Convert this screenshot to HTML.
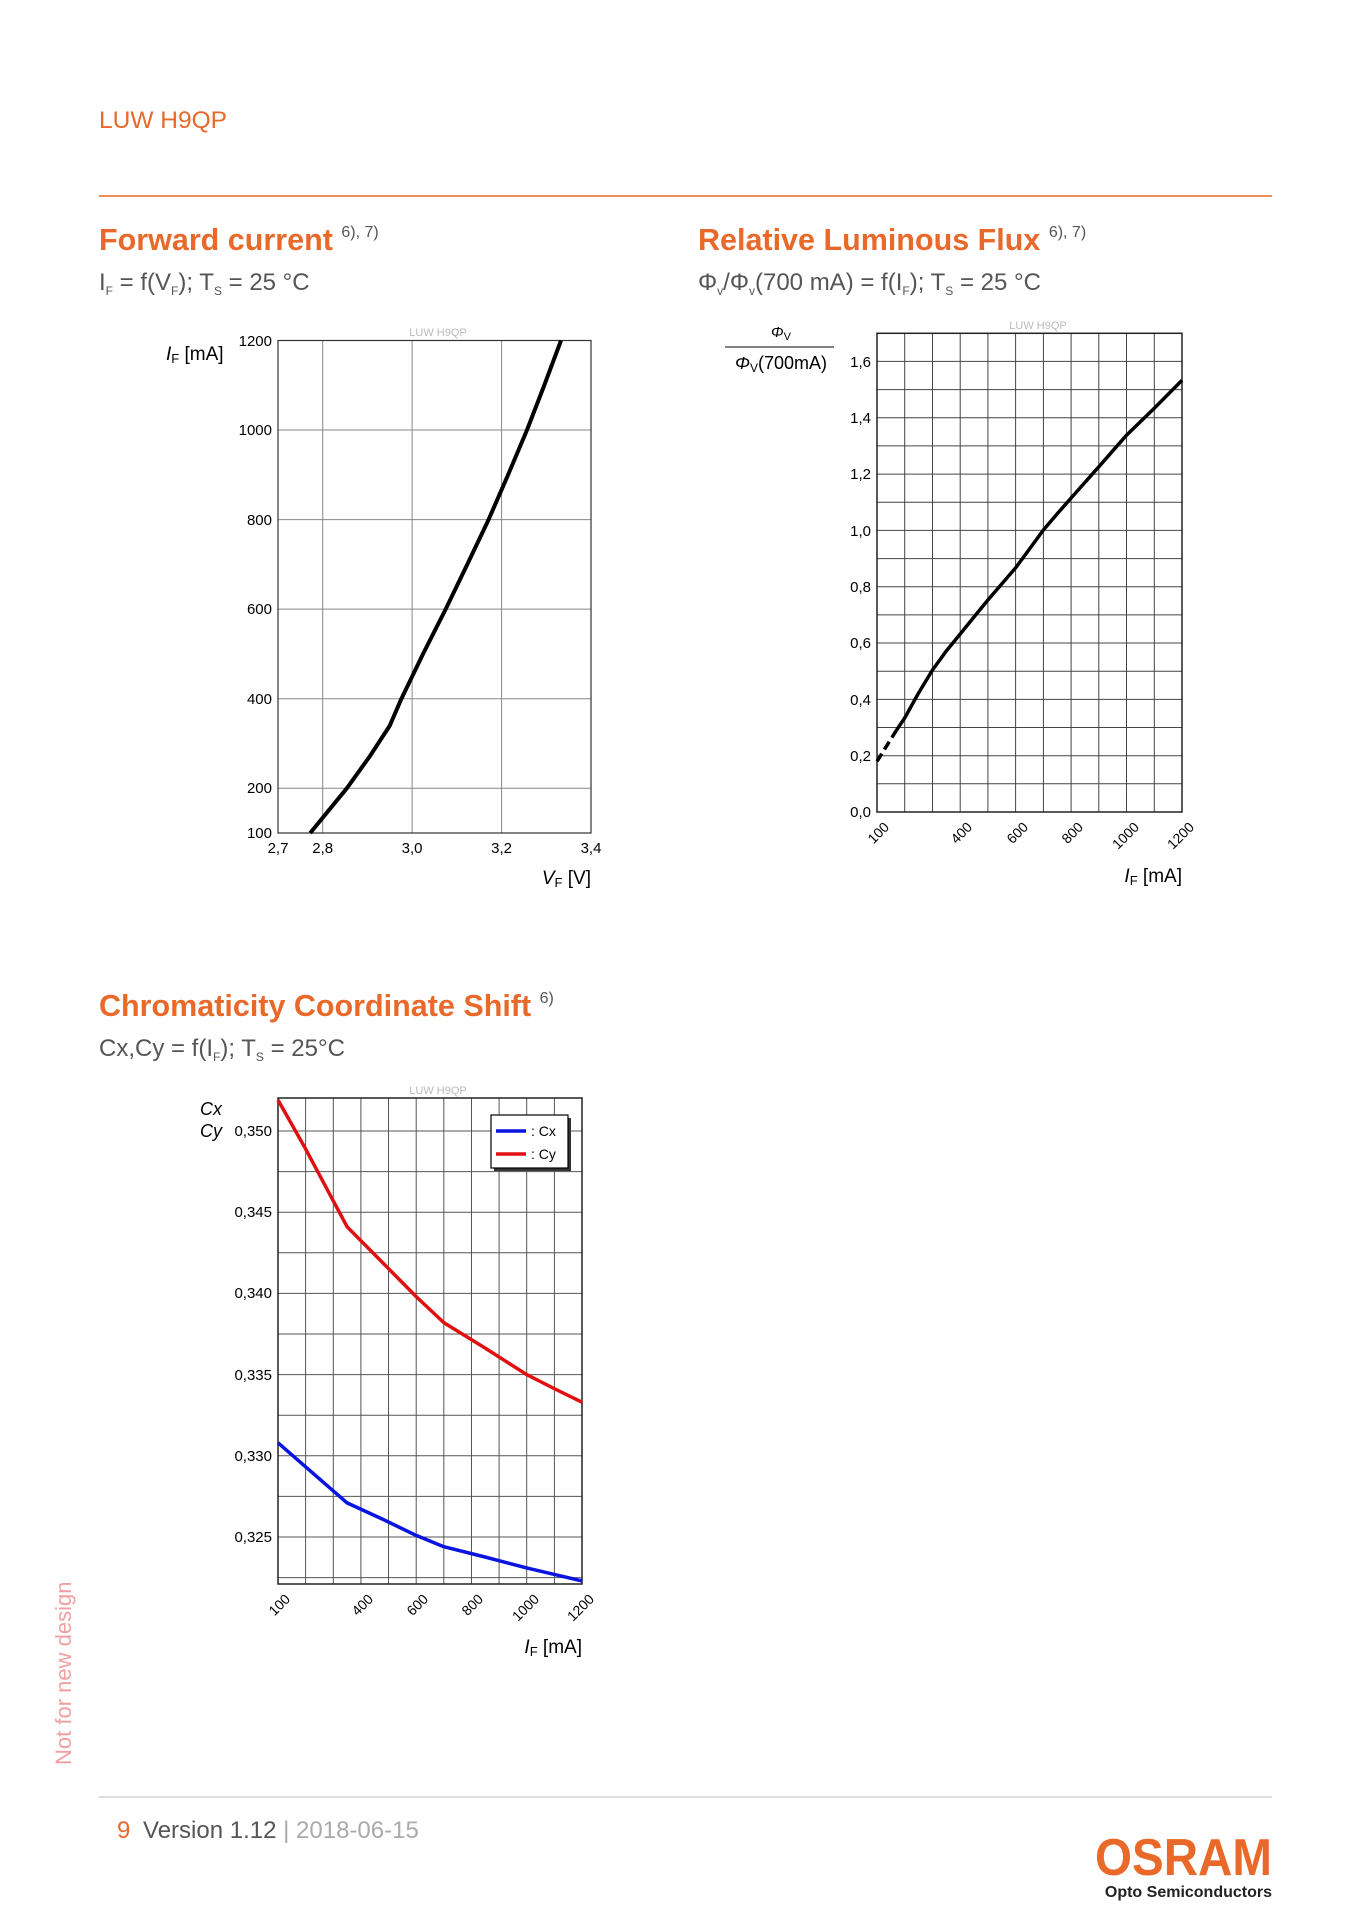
<!DOCTYPE html>
<html><head><meta charset="utf-8"><style>
html,body{margin:0;padding:0;background:#fff}
svg{display:block}
text{font-family:"Liberation Sans",sans-serif}
</style></head><body>
<svg width="1357" height="1920" viewBox="0 0 1357 1920" xmlns="http://www.w3.org/2000/svg">
<text x="99" y="128" font-size="24.5" fill="#e8692a">LUW H9QP</text>
<line x1="99" y1="196" x2="1272" y2="196" stroke="#e8692a" stroke-width="1.5"/>

<!-- Titles -->
<text x="99" y="250" font-size="30.5" font-weight="bold" fill="#e8692a">Forward current <tspan font-size="16" font-weight="normal" fill="#555" dy="-13">6), 7)</tspan></text>
<text x="99" y="290" font-size="24" fill="#555">I<tspan font-size="12" dy="5">F</tspan><tspan dy="-5"> = f(V</tspan><tspan font-size="12" dy="5">F</tspan><tspan dy="-5">); T</tspan><tspan font-size="12" dy="5">S</tspan><tspan dy="-5"> = 25 °C</tspan></text>
<text x="698" y="250" font-size="30.5" font-weight="bold" fill="#e8692a">Relative Luminous Flux <tspan font-size="16" font-weight="normal" fill="#555" dy="-13">6), 7)</tspan></text>
<text x="698" y="290" font-size="24" fill="#555">Φ<tspan font-size="12" dy="5">v</tspan><tspan dy="-5">/Φ</tspan><tspan font-size="12" dy="5">v</tspan><tspan dy="-5">(700 mA) = f(I</tspan><tspan font-size="12" dy="5">F</tspan><tspan dy="-5">); T</tspan><tspan font-size="12" dy="5">S</tspan><tspan dy="-5"> = 25 °C</tspan></text>
<text x="99" y="1016" font-size="30.5" font-weight="bold" fill="#e8692a">Chromaticity Coordinate Shift <tspan font-size="16" font-weight="normal" fill="#555" dy="-13">6)</tspan></text>
<text x="99" y="1056" font-size="24" fill="#555">Cx,Cy = f(I<tspan font-size="12" dy="5">F</tspan><tspan dy="-5">); T</tspan><tspan font-size="12" dy="5">S</tspan><tspan dy="-5"> = 25°C</tspan></text>

<!-- Chart 1 -->
<g stroke="#888" stroke-width="1">
<line x1="322.7" y1="340.5" x2="322.7" y2="833"/><line x1="412.1" y1="340.5" x2="412.1" y2="833"/><line x1="501.6" y1="340.5" x2="501.6" y2="833"/>
<line x1="278" y1="430" x2="591" y2="430"/><line x1="278" y1="519.6" x2="591" y2="519.6"/><line x1="278" y1="609.1" x2="591" y2="609.1"/><line x1="278" y1="698.7" x2="591" y2="698.7"/><line x1="278" y1="788.2" x2="591" y2="788.2"/>
</g>
<rect x="278" y="340.5" width="313" height="492.5" fill="none" stroke="#333" stroke-width="1.2"/>
<polyline fill="none" stroke="#000" stroke-width="4" stroke-linejoin="round" points="310.2,833 346.9,788.2 370,756 389.8,725.6 401.4,698.7 423,654 445.7,609.1 467,565 488.6,519.6 508,475 527,430 544,386 561,340.5"/>
<text x="438" y="336" font-size="11" fill="#bbb" text-anchor="middle">LUW H9QP</text>
<g font-size="15" fill="#000" text-anchor="end">
<text x="272" y="346">1200</text><text x="272" y="435">1000</text><text x="272" y="525">800</text><text x="272" y="614">600</text><text x="272" y="704">400</text><text x="272" y="793">200</text><text x="272" y="838">100</text>
</g>
<g font-size="15" fill="#000" text-anchor="middle">
<text x="278" y="853">2,7</text><text x="322.7" y="853">2,8</text><text x="412.1" y="853">3,0</text><text x="501.6" y="853">3,2</text><text x="591" y="853">3,4</text>
</g>
<text x="166" y="360" font-size="19"><tspan font-style="italic">I</tspan><tspan font-size="13" dy="3">F</tspan><tspan dy="-3"> [mA]</tspan></text>
<text x="591" y="884" font-size="19" text-anchor="end"><tspan font-style="italic">V</tspan><tspan font-size="13" dy="3">F</tspan><tspan dy="-3"> [V]</tspan></text>

<!-- Chart 2 -->
<g stroke="#444" stroke-width="1">
<line x1="904.7" y1="333.3" x2="904.7" y2="812"/><line x1="932.5" y1="333.3" x2="932.5" y2="812"/><line x1="960.2" y1="333.3" x2="960.2" y2="812"/><line x1="987.9" y1="333.3" x2="987.9" y2="812"/><line x1="1015.6" y1="333.3" x2="1015.6" y2="812"/><line x1="1043.4" y1="333.3" x2="1043.4" y2="812"/><line x1="1071.1" y1="333.3" x2="1071.1" y2="812"/><line x1="1098.8" y1="333.3" x2="1098.8" y2="812"/><line x1="1126.5" y1="333.3" x2="1126.5" y2="812"/><line x1="1154.3" y1="333.3" x2="1154.3" y2="812"/>
<line x1="877" y1="783.8" x2="1182" y2="783.8"/><line x1="877" y1="755.7" x2="1182" y2="755.7"/><line x1="877" y1="727.5" x2="1182" y2="727.5"/><line x1="877" y1="699.4" x2="1182" y2="699.4"/><line x1="877" y1="671.2" x2="1182" y2="671.2"/><line x1="877" y1="643" x2="1182" y2="643"/><line x1="877" y1="614.9" x2="1182" y2="614.9"/><line x1="877" y1="586.7" x2="1182" y2="586.7"/><line x1="877" y1="558.6" x2="1182" y2="558.6"/><line x1="877" y1="530.4" x2="1182" y2="530.4"/><line x1="877" y1="502.2" x2="1182" y2="502.2"/><line x1="877" y1="474.1" x2="1182" y2="474.1"/><line x1="877" y1="445.9" x2="1182" y2="445.9"/><line x1="877" y1="417.8" x2="1182" y2="417.8"/><line x1="877" y1="389.6" x2="1182" y2="389.6"/><line x1="877" y1="361.4" x2="1182" y2="361.4"/>
</g>
<rect x="877" y="333.3" width="305" height="478.7" fill="none" stroke="#222" stroke-width="1.5"/>
<line x1="877" y1="761.3" x2="896.4" y2="730.3" stroke="#000" stroke-width="3.5" stroke-dasharray="9,5"/>
<polyline fill="none" stroke="#000" stroke-width="3.5" stroke-linejoin="round" points="896.4,730.3 904.7,718 918,694 932.5,670 946.3,651 960.2,634 974,617 987.9,600 1001.7,584 1015.6,567.9 1029.5,549 1043.4,530 1057,514 1071.1,498 1098.8,466.8 1126.5,435.2 1154.3,408.2 1182,380.3"/>
<text x="1038" y="329" font-size="11" fill="#bbb" text-anchor="middle">LUW H9QP</text>
<g font-size="15" fill="#000" text-anchor="end">
<text x="871" y="367">1,6</text><text x="871" y="423">1,4</text><text x="871" y="479">1,2</text><text x="871" y="536">1,0</text><text x="871" y="592">0,8</text><text x="871" y="648">0,6</text><text x="871" y="705">0,4</text><text x="871" y="761">0,2</text><text x="871" y="817">0,0</text>
</g>
<g font-size="14" fill="#000" text-anchor="end">
<text transform="translate(890,828) rotate(-45)">100</text><text transform="translate(973,828) rotate(-45)">400</text><text transform="translate(1029,828) rotate(-45)">600</text><text transform="translate(1084,828) rotate(-45)">800</text><text transform="translate(1140,828) rotate(-45)">1000</text><text transform="translate(1195,828) rotate(-45)">1200</text>
</g>
<text x="781" y="337" font-size="15" text-anchor="middle" font-style="italic">Φ<tspan font-size="11" dy="3" font-style="normal">V</tspan></text>
<line x1="725" y1="347" x2="834" y2="347" stroke="#000" stroke-width="1"/>
<text x="781" y="369" font-size="18" text-anchor="middle"><tspan font-style="italic">Φ</tspan><tspan font-size="12" dy="3">V</tspan><tspan dy="-3">(700mA)</tspan></text>
<text x="1182" y="882" font-size="19" text-anchor="end"><tspan font-style="italic">I</tspan><tspan font-size="13" dy="3">F</tspan><tspan dy="-3"> [mA]</tspan></text>

<!-- Chart 3 -->
<g stroke="#555" stroke-width="1">
<line x1="305.6" y1="1098" x2="305.6" y2="1584"/><line x1="333.3" y1="1098" x2="333.3" y2="1584"/><line x1="360.9" y1="1098" x2="360.9" y2="1584"/><line x1="388.5" y1="1098" x2="388.5" y2="1584"/><line x1="416.2" y1="1098" x2="416.2" y2="1584"/><line x1="443.8" y1="1098" x2="443.8" y2="1584"/><line x1="471.5" y1="1098" x2="471.5" y2="1584"/><line x1="499.1" y1="1098" x2="499.1" y2="1584"/><line x1="526.7" y1="1098" x2="526.7" y2="1584"/><line x1="554.4" y1="1098" x2="554.4" y2="1584"/>
<line x1="278" y1="1131" x2="582" y2="1131"/><line x1="278" y1="1171.6" x2="582" y2="1171.6"/><line x1="278" y1="1212.2" x2="582" y2="1212.2"/><line x1="278" y1="1252.8" x2="582" y2="1252.8"/><line x1="278" y1="1293.4" x2="582" y2="1293.4"/><line x1="278" y1="1334" x2="582" y2="1334"/><line x1="278" y1="1374.6" x2="582" y2="1374.6"/><line x1="278" y1="1415.2" x2="582" y2="1415.2"/><line x1="278" y1="1455.8" x2="582" y2="1455.8"/><line x1="278" y1="1496.4" x2="582" y2="1496.4"/><line x1="278" y1="1537" x2="582" y2="1537"/><line x1="278" y1="1577.6" x2="582" y2="1577.6"/>
</g>
<rect x="278" y="1098" width="304" height="486" fill="none" stroke="#222" stroke-width="1.5"/>
<polyline fill="none" stroke="#e01010" stroke-width="3.5" stroke-linejoin="round" points="278,1100 305.6,1148.9 347.1,1226.8 380,1260 416.2,1296.6 443.8,1322.6 485,1348 526.7,1374.6 555,1389 582,1402.2"/>
<polyline fill="none" stroke="#0a14e0" stroke-width="3.5" stroke-linejoin="round" points="278,1442.8 347.1,1502.9 380,1518 416.2,1535.4 443.8,1546.7 485,1557 526.7,1567.9 582,1580.9"/>
<rect x="494" y="1118" width="77" height="53" fill="#333"/>
<rect x="491" y="1115" width="77" height="53" fill="#fff" stroke="#000" stroke-width="1.2"/>
<line x1="496" y1="1131" x2="526" y2="1131" stroke="#0a14e0" stroke-width="3.5"/>
<line x1="496" y1="1154" x2="526" y2="1154" stroke="#e01010" stroke-width="3.5"/>
<text x="531" y="1136" font-size="14">: Cx</text><text x="531" y="1159" font-size="14">: Cy</text>
<text x="438" y="1094" font-size="11" fill="#bbb" text-anchor="middle">LUW H9QP</text>
<g font-size="15" fill="#000" text-anchor="end">
<text x="272" y="1136">0,350</text><text x="272" y="1217">0,345</text><text x="272" y="1298">0,340</text><text x="272" y="1380">0,335</text><text x="272" y="1461">0,330</text><text x="272" y="1542">0,325</text>
</g>
<text x="200" y="1115" font-size="18" font-style="italic">Cx</text>
<text x="200" y="1137" font-size="18" font-style="italic">Cy</text>
<g font-size="14" fill="#000" text-anchor="end">
<text transform="translate(291,1600) rotate(-45)">100</text><text transform="translate(374,1600) rotate(-45)">400</text><text transform="translate(429,1600) rotate(-45)">600</text><text transform="translate(484,1600) rotate(-45)">800</text><text transform="translate(540,1600) rotate(-45)">1000</text><text transform="translate(595,1600) rotate(-45)">1200</text>
</g>
<text x="582" y="1653" font-size="19" text-anchor="end"><tspan font-style="italic">I</tspan><tspan font-size="13" dy="3">F</tspan><tspan dy="-3"> [mA]</tspan></text>

<!-- side text -->
<text transform="translate(71,1765) rotate(-90)" font-size="22" fill="#f0a0a0">Not for new design</text>

<!-- footer -->
<line x1="99" y1="1797" x2="1272" y2="1797" stroke="#bbb" stroke-width="1"/>
<text x="117" y="1838" font-size="24" fill="#e8692a">9 <tspan fill="#555" dx="6">Version 1.12</tspan><tspan fill="#aaa"> | 2018-06-15</tspan></text>
<text x="1272" y="1875" font-size="52" font-weight="bold" fill="#e8692a" text-anchor="end" textLength="177" lengthAdjust="spacingAndGlyphs">OSRAM</text>
<text x="1272" y="1897" font-size="16" font-weight="bold" fill="#222" text-anchor="end">Opto Semiconductors</text>
</svg>
</body></html>
